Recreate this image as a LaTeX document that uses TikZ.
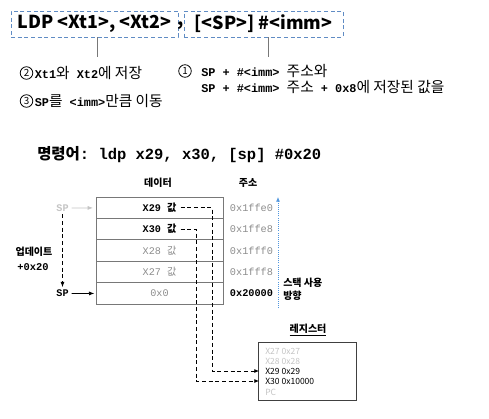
\documentclass[tikz,border=0pt]{standalone}
\usepackage{fontspec}
\setmainfont{Noto Sans CJK KR}
\setmonofont{Liberation Mono}
\newfontfamily\krfont{Noto Sans CJK KR}
\newfontfamily\krnote[Scale=1.24]{Noto Sans CJK KR}
\newcommand{\kor}[1]{{\krfont #1}}
\newcommand{\kn}[1]{{\krnote\mdseries #1}}
\usepackage{tikz}
\usetikzlibrary{arrows.meta,calc,positioning}
\usepackage{xcolor}
\definecolor{boxblue}{RGB}{96,140,196}
\definecolor{dirblue}{RGB}{80,150,222}
\definecolor{midgray}{RGB}{140,140,140}
\definecolor{palegray}{RGB}{196,196,196}
\definecolor{linegray}{RGB}{120,120,120}

\begin{document}
\begin{tikzpicture}[x=0.75pt,y=-0.75pt,
  cmdbox/.style={draw=boxblue,densely dashed,line width=0.6pt,minimum height=19.5pt,inner sep=0pt,font=\fontsize{13.4}{16}\selectfont\bfseries},
  lead/.style={draw=linegray,line width=0.5pt},
  numc/.style={circle,draw,line width=0.6pt,minimum size=9.4pt,inner sep=0pt,font=\fontsize{7.4}{8}\selectfont},
  note/.style={inner sep=0pt,font=\fontsize{8.9}{11}\ttfamily\bfseries},
  head/.style={inner sep=0pt,font=\fontsize{7.5}{9.75}\selectfont\bfseries},
  cell/.style={draw=linegray,line width=0.5pt,minimum width=95.25pt,minimum height=16.05pt,inner sep=0pt},
  val/.style={inner sep=3pt,font=\fontsize{7.6}{9}\ttfamily\bfseries},
  addr/.style={inner sep=0pt,font=\fontsize{7.7}{9}\ttfamily,text=midgray},
  ptr/.style={-{Latex[length=4pt,width=3pt]},line width=0.5pt},
  link/.style={densely dashed,line width=0.6pt,-{Latex[length=3.5pt,width=3pt]}},
  regent/.style={anchor=west,inner xsep=4.5pt,inner ysep=0pt,font=\fontsize{6.4}{7}\selectfont}]
  \useasboundingbox (0,0) rectangle (489,418);
  % instruction form
  \node[cmdbox,minimum width=125.25pt] (fmt) at (94.5,24) {LDP <Xt1>, <Xt2>};
  \node[inner sep=0pt,font=\fontsize{13.4}{16}\selectfont\bfseries] (comma) at (181,26) {,};
  \node[cmdbox,minimum width=119.25pt] (opnd) at (263.5,24) {[<SP>] \#<imm>};
  \draw[lead] ([xshift=1.9pt]fmt.south) -- ++(0,20);
  \draw[lead] ([xshift=3.6pt]opnd.south) -- ++(0,20);
  % notes
  \node[numc] (c2) at (26.5,73) {2};
  \node[note,right=1pt of c2] (t2) {Xt1\kn{와} Xt2\kn{에 저장}};
  \node[numc] (c1) at (185,71) {1};
  \node[note,right=7pt of c1] (t1a) {SP + \#<imm> \kn{주소와}};
  \node[note,anchor=west] (t1b) at ($(t1a.west)+(0,15.5)$) {SP + \#<imm> \kn{주소} + 0x8\kn{에 저장된 값을}};
  \node[numc] (c3) at (26.5,101) {3};
  \node[note,right=1pt of c3] (t3) {SP\kn{를} <imm>\kn{만큼 이동}};
  % example
  \node[anchor=west,inner sep=0pt,font=\fontsize{11.6}{14}\selectfont\bfseries] (cmd) at (37,155) {명령어\texttt{: ldp x29, x30, [sp] \#0x20}};
  \node[head] (hdata) at (158,183) {데이터};
  \node[head] (haddr) at (248,183) {주소};
  % stack
  \node[cell] (m1) at (159.5,207.7) {};
  \node[cell] (m2) at (159.5,229.1) {};
  \node[cell] (m3) at (159.5,250.5) {};
  \node[cell] (m4) at (159.5,271.9) {};
  \node[cell] (m5) at (159.5,293.3) {};
  \node[val] (v29) at (m1) {X29 \kor{값}};
  \node[val] (v30) at (m2) {X30 \kor{값}};
  \node[val,font=\fontsize{7.6}{9}\ttfamily,text=midgray] (v28) at (m3) {X28 \kor{값}};
  \node[val,font=\fontsize{7.6}{9}\ttfamily,text=midgray] (v27) at (m4) {X27 \kor{값}};
  \node[val,font=\fontsize{7.6}{9}\ttfamily,text=midgray] (v0) at (m5) {0x0};
  \node[addr] (a1) at (251.5,207.7) {0x1ffe0};
  \node[addr] (a2) at (251.5,229.1) {0x1ffe8};
  \node[addr] (a3) at (251.5,250.5) {0x1fff0};
  \node[addr] (a4) at (251.5,271.9) {0x1fff8};
  \node[addr,font=\fontsize{7.7}{9}\ttfamily\bfseries,text=black] (a5) at (251.5,293.3) {0x20000};
  \coordinate (dirlo) at (278,308);
  \coordinate (dirhi) at (278,197);
  \draw[dirblue,densely dotted,line width=0.6pt,-{Latex[length=3.5pt,width=3pt]}] (dirlo) -- (dirhi);
  \node[head,anchor=west,align=left] (dirtxt) at (283,289.5) {스택 사용\\방향};
  % stack pointer
  \node[inner sep=2pt,font=\fontsize{7.6}{9}\ttfamily\bfseries,text=palegray] (sp0) at (62.5,208) {SP};
  \node[inner sep=2pt,font=\fontsize{7.6}{9}\ttfamily\bfseries] (sp1) at (62.5,293.5) {SP};
  \draw[ptr,palegray,shorten >=2pt] (sp0) -- (m1);
  \draw[ptr,shorten >=1pt] (sp1) -- (m5);
  \draw[ptr,densely dashed] (sp0) -- (sp1);
  \node[head] (upd) at (34,252) {업데이트};
  \node[inner sep=0pt,font=\fontsize{7.8}{9}\ttfamily\bfseries] (inc) at (33,267) {+0x20};
  % registers
  \node[draw=black!75,line width=0.7pt,minimum width=73.5pt,minimum height=43.5pt,inner sep=0pt] (reg) at (307,371) {};
  \node[head] (hreg) at (308,330) {\underline{레지스터}};
  \node[regent,text=palegray] (r27) at (259,351) {X27 0x27};
  \node[regent,text=palegray] (r28) at (259,361) {X28 0x28};
  \node[regent] (r29) at (259,371) {X29 0x29};
  \node[regent] (r30) at (259,381) {X30 0x10000};
  \node[regent,text=palegray] (rpc) at (259,392) {PC};
  \coordinate (k29) at (212,0);
  \coordinate (k30) at (196,0);
  \draw[link] (v29.east) -- (v29.east -| k29) |- (r29.west);
  \draw[link] (v30.east) -- (v30.east -| k30) |- (r30.west);
\end{tikzpicture}
\end{document}
